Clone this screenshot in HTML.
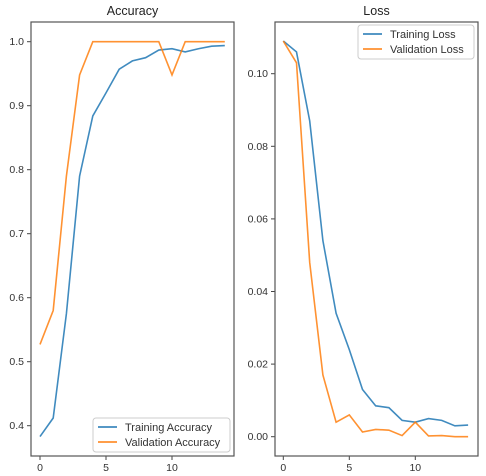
<!DOCTYPE html>
<html><head><meta charset="utf-8"><style>
body{margin:0;background:#fff;}
svg{display:block;font-family:"Liberation Sans","DejaVu Sans",sans-serif;}
</style></head><body>
<svg id="c" width="486" height="476"></svg>
<script>
const epochs=[0,1,2,3,4,5,6,7,8,9,10,11,12,13,14];
const trainAcc=[0.383,0.412,0.575,0.79,0.884,0.92,0.957,0.970,0.975,0.987,0.989,0.984,0.989,0.993,0.994];
const valAcc=[0.527,0.58,0.79,0.948,1,1,1,1,1,1,0.948,1,1,1,1];
const trainLoss=[0.109,0.106,0.087,0.054,0.034,0.024,0.013,0.0085,0.008,0.0045,0.004,0.005,0.0045,0.003,0.0032];
const valLoss=[0.109,0.103,0.048,0.017,0.004,0.006,0.0013,0.002,0.0018,0.0003,0.004,0.0002,0.0003,0.0,0.0];
const xTicks=[0,5,10];
const accTicks=[0.4,0.5,0.6,0.7,0.8,0.9,1.0];
const lossTicks=[0,0.02,0.04,0.06,0.08,0.10];
const NS="http://www.w3.org/2000/svg";
const svg=document.getElementById('c');
function el(t,a,p){const e=document.createElementNS(NS,t);for(const k in a)e.setAttribute(k,a[k]);(p||svg).appendChild(e);return e;}
function panel(o){
  const g=el('g',{});
  
  
  const x=v=>o.x0+(v-0)*o.xs, y=v=>o.y0-(v-o.yv0)*o.ys;
  const t=el('text',{x:(o.L+o.R)/2,y:15,'text-anchor':'middle','font-size':12.5,fill:'#222'},g);t.textContent=o.title;
  
  xTicks.forEach(v=>{el('line',{x1:x(v),x2:x(v),y1:o.B,y2:o.B+4,stroke:'#444'},g);
    const tt=el('text',{x:x(v),y:o.B+15,'text-anchor':'middle','font-size':10.5,fill:'#333'},g);tt.textContent=v;
    });
  o.yt.forEach(v=>{el('line',{x1:o.L-4,x2:o.L,y1:y(v),y2:y(v),stroke:'#444'},g);
    const tt=el('text',{x:o.L-7,y:y(v)+3.5,'text-anchor':'end','font-size':10.5,fill:'#333'},g);tt.textContent=o.fmt(v);
    });
  [[o.s1,'#1f77b4'],[o.s2,'#ff7f0e']].forEach(([s,c],i)=>{
    const p=el('polyline',{points:epochs.map((e,j)=>x(e)+','+y(s[j])).join(' '),fill:'none',stroke:c,'stroke-width':1.6,opacity:0.85},g);
    });
  el('rect',{x:o.L,y:o.T,width:o.R-o.L,height:o.B-o.T,fill:'none',stroke:'#555','stroke-width':1.2},g);
  const lg=el('g',{},g);
  el('rect',{x:o.lx,y:o.ly,width:o.lw,height:34,rx:3,fill:'#fff',stroke:'#ccc'},lg);
  o.labels.forEach((l,i)=>{el('line',{x1:o.lx+5,x2:o.lx+24,y1:o.ly+9+i*15,y2:o.ly+9+i*15,stroke:i?'#ff7f0e':'#1f77b4','stroke-width':1.6},lg);
    const tt=el('text',{x:o.lx+32,y:o.ly+13+i*15,'font-size':11,fill:'#333'},lg);tt.textContent=l;
    });
}
panel({name:'accuracy-chart',title:'Accuracy',L:31,R:234,T:22,B:456,x0:40,xs:13.2,y0:425.7,yv0:0.4,ys:640,yt:accTicks,fmt:v=>v.toFixed(1),s1:trainAcc,s2:valAcc,labels:['Training Accuracy','Validation Accuracy'],lx:93,ly:418,lw:137});
panel({name:'loss-chart',title:'Loss',L:275,R:478,T:22,B:456,x0:283.3,xs:13.2,y0:436.7,yv0:0,ys:3630,yt:lossTicks,fmt:v=>v.toFixed(2),s1:trainLoss,s2:valLoss,labels:['Training Loss','Validation Loss'],lx:358,ly:25,lw:116});
</script>
</body></html>
